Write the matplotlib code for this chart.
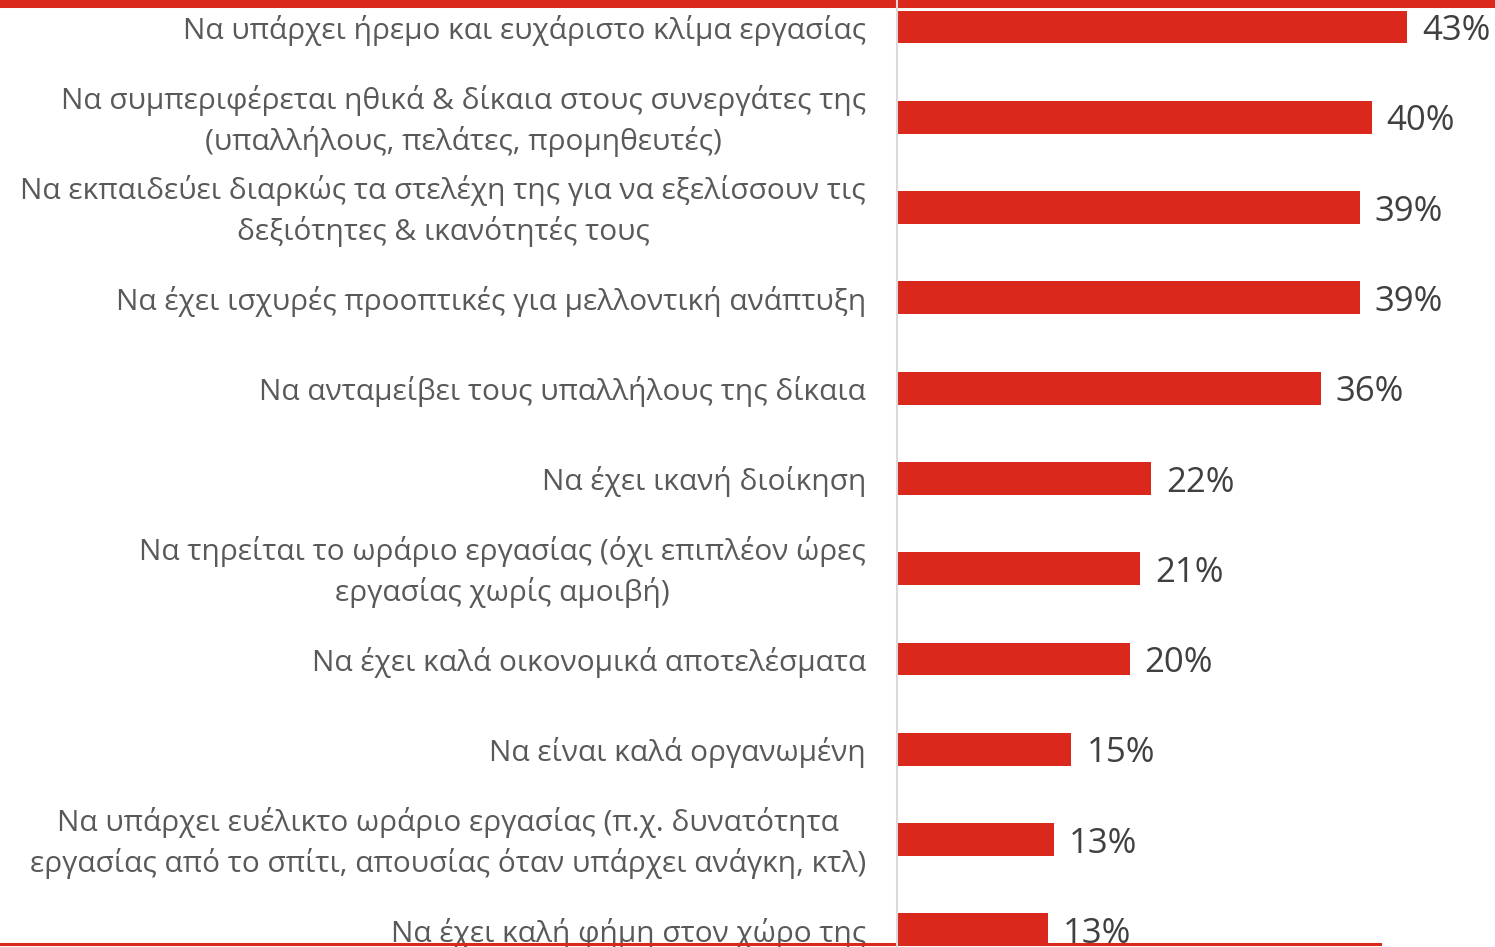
import matplotlib
matplotlib.use('Agg')
import matplotlib.pyplot as plt
from matplotlib.lines import Line2D

plt.rcParams['font.family'] = ['Open Sans', 'DejaVu Sans']

# Data (top to bottom)
categories = [
    "Να υπάρχει ήρεμο και ευχάριστο κλίμα εργασίας",
    "Να συμπεριφέρεται ηθικά & δίκαια στους συνεργάτες της\n(υπαλλήλους, πελάτες, προμηθευτές)",
    "Να εκπαιδεύει διαρκώς τα στελέχη της για να εξελίσσουν τις\nδεξιότητες & ικανότητές τους",
    "Να έχει ισχυρές προοπτικές για μελλοντική ανάπτυξη",
    "Να ανταμείβει τους υπαλλήλους της δίκαια",
    "Να έχει ικανή διοίκηση",
    "Να τηρείται το ωράριο εργασίας (όχι επιπλέον ώρες\nεργασίας χωρίς αμοιβή)",
    "Να έχει καλά οικονομικά αποτελέσματα",
    "Να είναι καλά οργανωμένη",
    "Να υπάρχει ευέλικτο ωράριο εργασίας (π.χ. δυνατότητα\nεργασίας από το σπίτι, απουσίας όταν υπάρχει ανάγκη, κτλ)",
    "Να έχει καλή φήμη στον χώρο της",
]
values = [43.0, 40.0, 39.0, 39.0, 35.7, 21.4, 20.5, 19.6, 14.7, 13.2, 12.7]
value_labels = ["43%", "40%", "39%", "39%", "36%", "22%", "21%", "20%", "15%", "13%", "13%"]

RED = '#DA291C'
LABEL_GRAY = '#595959'
VALUE_GRAY = '#404040'

fig = plt.figure(figsize=(14.95, 9.47), dpi=100)
ax = fig.add_axes([0.6, 0.0, 0.4, 1.0])

pos = list(range(len(categories)))
ax.barh(pos, values, height=0.365, color=RED, zorder=3)

ax.set_xlim(0, 50.4)
ax.set_ylim(10.19, -0.299)
ax.axis('off')

for i, (cat, v, lab) in enumerate(zip(categories, values, value_labels)):
    ax.annotate(cat, xy=(0, i), xytext=(-22.3, -2.5), textcoords='offset points',
                ha='right', va='center', multialignment='center',
                fontsize=21.5, color=LABEL_GRAY, linespacing=1.43,
                annotation_clip=False)
    ax.annotate(lab, xy=(v, i), xytext=(10.8, -3), textcoords='offset points',
                ha='left', va='center', fontsize=25, color=VALUE_GRAY,
                annotation_clip=False)

# red rules at top and bottom, grey axis line
fig.add_artist(Line2D([0, 1], [1 - 4 / 947, 1 - 4 / 947], color=RED, lw=5.8, zorder=1))
fig.add_artist(Line2D([0, 1380 / 1495], [1 - 943.5 / 947, 1 - 943.5 / 947], color=RED, lw=2.2, zorder=1))
fig.add_artist(Line2D([897 / 1495, 897 / 1495], [0, 1], color='#d9d9d9', lw=1.5, zorder=5))

fig.savefig('out.png', dpi=100)
